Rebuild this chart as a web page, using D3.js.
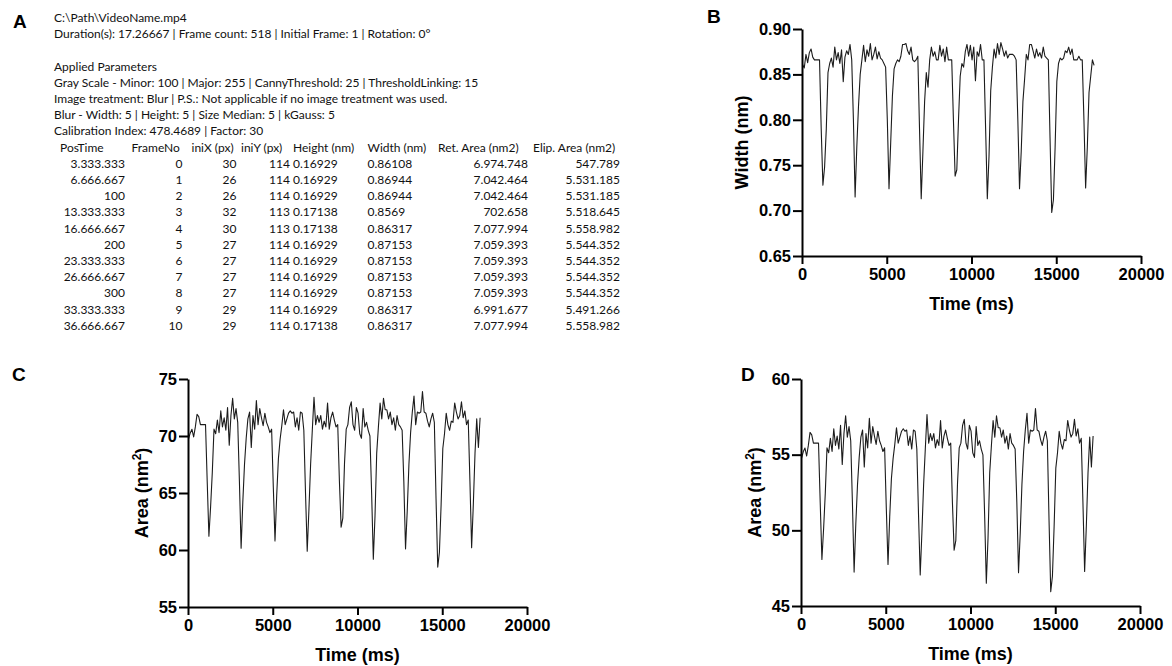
<!DOCTYPE html>
<html>
<head>
<meta charset="utf-8">
<script src="https://cdn.jsdelivr.net/npm/d3@7"></script>
<style>
  body { margin: 0; background: #fff; }
  svg { display: block; }
</style>
</head>
<body>
<svg id="fig" width="1172" height="666"></svg>
<script>
//------------------------------------------------------
// 1) Data (read from the figure)
//------------------------------------------------------

// one sample every 3 frames, video at 30 fps
const fps = 30;
const frameStep = 3;

const widthNm = [
  0.861, 0.857, 0.872, 0.863, 0.874, 0.878, 0.869, 0.866, 0.866, 0.866,
  0.866, 0.790, 0.728, 0.748, 0.790, 0.852, 0.862, 0.868, 0.858, 0.880,
  0.866, 0.874, 0.862, 0.877, 0.842, 0.869, 0.876, 0.872, 0.883, 0.866,
  0.800, 0.715, 0.770, 0.815, 0.850, 0.866, 0.882, 0.864, 0.877, 0.870,
  0.884, 0.866, 0.872, 0.880, 0.867, 0.875, 0.868, 0.866, 0.862, 0.858,
  0.800, 0.724, 0.775, 0.826, 0.856, 0.862, 0.866, 0.864, 0.870, 0.883,
  0.883, 0.884, 0.876, 0.872, 0.880, 0.866, 0.864, 0.866, 0.870, 0.790,
  0.713, 0.765, 0.820, 0.852, 0.836, 0.866, 0.880, 0.870, 0.875, 0.866,
  0.866, 0.882, 0.870, 0.878, 0.864, 0.880, 0.866, 0.866, 0.866, 0.800,
  0.738, 0.745, 0.800, 0.848, 0.862, 0.858, 0.875, 0.883, 0.870, 0.882,
  0.866, 0.880, 0.843, 0.875, 0.870, 0.883, 0.866, 0.866, 0.790, 0.713,
  0.760, 0.832, 0.858, 0.878, 0.868, 0.884, 0.872, 0.885, 0.878, 0.870,
  0.876, 0.868, 0.872, 0.872, 0.872, 0.870, 0.866, 0.800, 0.724, 0.765,
  0.820, 0.845, 0.872, 0.866, 0.883, 0.883, 0.876, 0.868, 0.878, 0.870,
  0.874, 0.868, 0.880, 0.870, 0.868, 0.866, 0.780, 0.698, 0.712, 0.770,
  0.842, 0.862, 0.868, 0.866, 0.868, 0.876, 0.874, 0.880, 0.872, 0.878,
  0.866, 0.866, 0.866, 0.870, 0.866, 0.866, 0.800, 0.725, 0.770, 0.830,
  0.848, 0.866, 0.860
];

const retArea = [
  69.75, 70.27, 70.59, 69.92, 70.80, 71.90, 71.70, 71.00, 71.00, 71.00,
  71.00, 66.00, 61.20, 63.80, 66.80, 70.60, 70.20, 71.40, 70.30, 72.20,
  70.80, 71.60, 70.50, 72.50, 69.20, 71.80, 73.30, 71.50, 72.40, 71.20,
  66.00, 60.15, 64.20, 67.50, 69.80, 71.50, 72.10, 69.00, 71.80, 70.60,
  73.10, 71.00, 72.40, 71.60, 70.90, 72.00, 71.20, 70.80, 70.30, 70.60,
  65.50, 60.80, 64.80, 68.00, 69.70, 70.90, 72.30, 71.00, 71.50, 72.00,
  72.20, 72.00, 72.10, 70.80, 71.60, 70.50, 72.10, 72.00, 70.50, 65.00,
  59.90, 63.50, 67.50, 70.50, 73.40, 71.00, 71.80, 71.20, 71.80, 70.60,
  71.30, 70.80, 72.90, 70.60, 71.60, 72.10, 71.40, 70.80, 71.00, 66.00,
  62.00, 62.80, 67.60, 70.60, 71.00, 72.50, 73.00, 71.00, 70.50, 72.50,
  72.00, 70.20, 69.80, 72.40, 70.80, 71.20, 70.50, 70.00, 65.00, 59.20,
  63.00, 68.50, 70.80, 72.90, 71.50, 73.30, 72.30, 72.30, 71.50, 72.10,
  71.00, 71.60, 70.50, 71.80, 71.00, 70.80, 70.50, 66.00, 60.10, 63.40,
  67.50, 70.30, 72.10, 73.50, 71.00, 72.10, 72.00, 72.10, 73.90, 72.10,
  72.00, 71.30, 70.80, 71.50, 72.00, 71.20, 64.50, 58.50, 59.80, 64.00,
  68.90, 70.20, 72.00, 71.00, 70.50, 71.30, 71.20, 72.90, 72.10, 71.50,
  71.80, 73.00, 71.60, 72.20, 71.00, 71.40, 66.00, 60.20, 64.00, 68.50,
  71.50, 69.00, 71.60
];

const elipArea = [
  54.78, 55.19, 55.44, 54.91, 55.61, 56.47, 56.31, 55.76, 55.76, 55.76,
  55.76, 51.84, 48.07, 50.11, 52.46, 55.45, 55.13, 56.08, 55.21, 56.71,
  55.61, 56.23, 55.37, 56.94, 54.35, 56.39, 57.57, 56.16, 56.86, 55.92,
  51.84, 47.24, 50.42, 53.01, 54.82, 56.16, 56.63, 54.19, 56.39, 55.45,
  57.41, 55.76, 56.86, 56.23, 55.68, 56.55, 55.92, 55.61, 55.21, 55.45,
  51.44, 47.75, 50.89, 53.41, 54.74, 55.68, 56.78, 55.76, 56.16, 56.55,
  56.71, 56.55, 56.63, 55.61, 56.23, 55.37, 56.63, 56.55, 55.37, 51.05,
  47.05, 49.87, 53.01, 55.37, 57.65, 55.76, 56.39, 55.92, 56.39, 55.45,
  56.00, 55.61, 57.26, 55.45, 56.23, 56.63, 56.08, 55.61, 55.76, 51.84,
  48.69, 49.32, 53.09, 55.45, 55.76, 56.94, 57.33, 55.76, 55.37, 56.94,
  56.55, 55.13, 54.82, 56.86, 55.61, 55.92, 55.37, 54.98, 51.05, 46.50,
  49.48, 53.80, 55.61, 57.26, 56.16, 57.57, 56.78, 56.78, 56.16, 56.63,
  55.76, 56.23, 55.37, 56.39, 55.76, 55.61, 55.37, 51.84, 47.20, 49.79,
  53.01, 55.21, 56.63, 57.73, 55.76, 56.63, 56.55, 56.63, 58.04, 56.63,
  56.55, 56.00, 55.61, 56.16, 56.55, 55.92, 50.66, 45.95, 46.97, 50.27,
  54.11, 55.13, 56.55, 55.76, 55.37, 56.00, 55.92, 57.26, 56.63, 56.16,
  56.39, 57.33, 56.23, 56.71, 55.76, 56.08, 51.84, 47.28, 50.27, 53.80,
  56.16, 54.19, 56.23
];

const xTicks = [0, 5000, 10000, 15000, 20000];
const widthTicks = [0.65, 0.70, 0.75, 0.80, 0.85, 0.90];
const retTicks = [55, 60, 65, 70, 75];
const elipTicks = [45, 50, 55, 60];

// Panel A text block
const headerLines = [
  "C:\\Path\\VideoName.mp4",
  "Duration(s): 17.26667 | Frame count: 518 | Initial Frame: 1 | Rotation: 0°",
  "",
  "Applied Parameters",
  "Gray Scale - Minor: 100 | Major: 255 | CannyThreshold: 25 | ThresholdLinking: 15",
  "Image treatment: Blur | P.S.: Not applicable if no image treatment was used.",
  "Blur - Width: 5 | Height: 5 | Size Median: 5 | kGauss: 5",
  "Calibration Index: 478.4689 | Factor: 30"
];

const colPosTime = ["3.333.333", "6.666.667", "100", "13.333.333", "16.666.667", "200",
  "23.333.333", "26.666.667", "300", "33.333.333", "36.666.667"];
const colFrameNo = ["0", "1", "2", "3", "4", "5", "6", "7", "8", "9", "10"];
const colIniX = ["30", "26", "26", "32", "30", "27", "27", "27", "27", "29", "29"];
const colIniY = ["114", "114", "114", "113", "113", "114", "114", "114", "114", "114", "114"];
const colHeight = ["0.16929", "0.16929", "0.16929", "0.17138", "0.17138", "0.16929",
  "0.16929", "0.16929", "0.16929", "0.16929", "0.17138"];
const colWidth = ["0.86108", "0.86944", "0.86944", "0.8569", "0.86317", "0.87153",
  "0.87153", "0.87153", "0.87153", "0.86317", "0.86317"];
const colRetArea = ["6.974.748", "7.042.464", "7.042.464", "702.658", "7.077.994", "7.059.393",
  "7.059.393", "7.059.393", "7.059.393", "6.991.677", "7.077.994"];
const colElipArea = ["547.789", "5.531.185", "5.531.185", "5.518.645", "5.558.982", "5.544.352",
  "5.544.352", "5.544.352", "5.544.352", "5.491.266", "5.558.982"];

//------------------------------------------------------
// 2) Setup
//------------------------------------------------------

const svg = d3.select("#fig");
const boldFont = "'Liberation Sans', Arial, sans-serif";
const tableFont = "Lato, 'Open Sans', sans-serif";

const posTime = widthNm.map((_, i) => (i * frameStep + 1) * 1000 / fps);

function panelLabel(txt, x, y) {
  svg.append("text")
    .attr("x", x).attr("y", y)
    .attr("font-family", boldFont)
    .attr("font-weight", "bold")
    .attr("font-size", 19)
    .text(txt);
}

//------------------------------------------------------
// 3) Panel A : text + table
//------------------------------------------------------

function drawPanelA() {
  const g = svg.append("g")
    .attr("font-family", tableFont)
    .attr("font-size", 12)
    .attr("fill", "#111");

  const lineH = 16.2;
  const y0 = 22;

  headerLines.forEach((line, i) => {
    g.append("text").attr("x", 54).attr("y", y0 + i * lineH).text(line);
  });

  const columns = [
    { head: "PosTime", hx: 60, x: 125, anchor: "end", vals: colPosTime },
    { head: "FrameNo", hx: 131.5, x: 182.5, anchor: "end", vals: colFrameNo },
    { head: "iniX (px)", hx: 191.5, x: 236.5, anchor: "end", vals: colIniX },
    { head: "iniY (px)", hx: 241, x: 290, anchor: "end", vals: colIniY },
    { head: "Height (nm)", hx: 293, x: 293, anchor: "start", vals: colHeight },
    { head: "Width (nm)", hx: 367.5, x: 367.5, anchor: "start", vals: colWidth },
    { head: "Ret. Area (nm2)", hx: 438, x: 528, anchor: "end", vals: colRetArea },
    { head: "Elip. Area (nm2)", hx: 533, x: 620, anchor: "end", vals: colElipArea }
  ];

  const headY = y0 + headerLines.length * lineH;

  columns.forEach(c => {
    g.append("text").attr("x", c.hx).attr("y", headY).text(c.head);
    g.selectAll(null)
      .data(c.vals)
      .join("text")
      .attr("x", c.x)
      .attr("y", (d, i) => headY + (i + 1) * lineH)
      .attr("text-anchor", c.anchor)
      .text(d => d);
  });
}

//------------------------------------------------------
// 4) Line panels B, C, D
//------------------------------------------------------

function drawLinePanel(p) {
  const x = d3.scaleLinear().domain([0, 20000]).range([p.left, p.right]);
  const y = d3.scaleLinear().domain(p.yDomain).range([p.bottom, p.top]);

  const g = svg.append("g");

  const line = d3.line()
    .x((d, i) => x(posTime[i]))
    .y(d => y(d));

  g.append("path")
    .datum(p.values)
    .attr("fill", "none")
    .attr("stroke", "#1c1c1c")
    .attr("stroke-width", 1.1)
    .attr("stroke-linejoin", "round")
    .attr("d", line);

  const xAxis = g.append("g")
    .attr("transform", `translate(0,${p.bottom})`)
    .call(d3.axisBottom(x).tickValues(xTicks).tickFormat(d3.format("d"))
      .tickSize(8).tickSizeOuter(0).tickPadding(4));

  const yAxis = g.append("g")
    .attr("transform", `translate(${p.left},0)`)
    .call(d3.axisLeft(y).tickValues(p.yTicks).tickFormat(p.fmt)
      .tickSize(9).tickSizeOuter(0).tickPadding(2));

  [xAxis, yAxis].forEach(a => {
    a.attr("font-family", boldFont).attr("font-size", 16.5).attr("font-weight", "bold");
    a.selectAll("path, line").attr("stroke", "#000").attr("stroke-width", 2);
    a.selectAll("text").attr("fill", "#000");
  });

  // axis titles
  g.append("text")
    .attr("x", (p.left + p.right) / 2)
    .attr("y", p.bottom + 54)
    .attr("text-anchor", "middle")
    .attr("font-family", boldFont)
    .attr("font-weight", "bold")
    .attr("font-size", 18)
    .text("Time (ms)");

  const yt = g.append("text")
    .attr("transform", `translate(${p.titleX},${(p.top + p.bottom) / 2}) rotate(-90)`)
    .attr("text-anchor", "middle")
    .attr("font-family", boldFont)
    .attr("font-weight", "bold")
    .attr("font-size", 18);

  if (p.sup) {
    yt.append("tspan").text("Area (nm");
    yt.append("tspan").attr("font-size", 12).attr("dy", -7).text("2");
    yt.append("tspan").attr("dy", 7).text(")");
  } else {
    yt.text(p.title);
  }
}

//------------------------------------------------------
// 5) Draw
//------------------------------------------------------

panelLabel("A", 13, 28);
panelLabel("B", 707, 23);
panelLabel("C", 12, 381);
panelLabel("D", 741, 381);

drawPanelA();

drawLinePanel({
  left: 802, right: 1141, top: 29, bottom: 256,
  yDomain: [0.65, 0.90], yTicks: widthTicks, fmt: d3.format(".2f"),
  values: widthNm, title: "Width (nm)", titleX: 748
});

drawLinePanel({
  left: 188, right: 527, top: 379, bottom: 607,
  yDomain: [55, 75], yTicks: retTicks, fmt: d3.format("d"),
  values: retArea, sup: true, titleX: 148
});

drawLinePanel({
  left: 801, right: 1140, top: 379, bottom: 606,
  yDomain: [45, 60], yTicks: elipTicks, fmt: d3.format("d"),
  values: elipArea, sup: true, titleX: 761
});
</script>
</body>
</html>
